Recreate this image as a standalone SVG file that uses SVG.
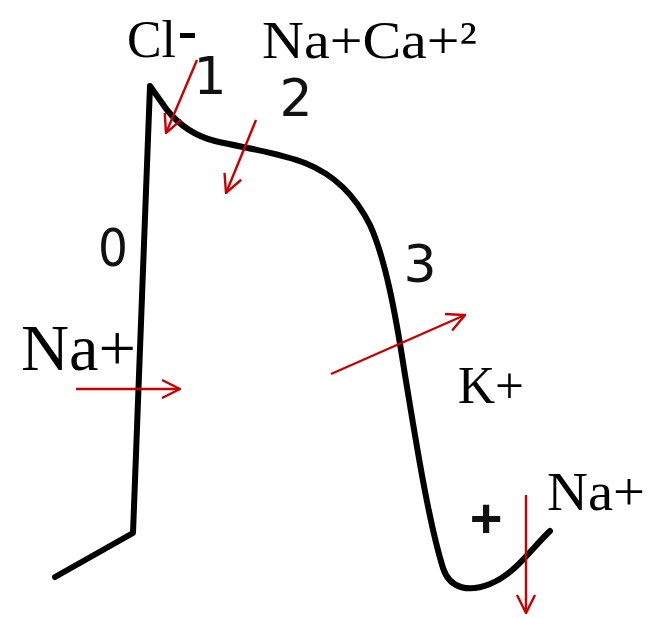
<svg xmlns="http://www.w3.org/2000/svg" width="665" height="618" viewBox="0 0 665 618">
<style>
.curve{fill:none;stroke:#000;stroke-width:6;stroke-linejoin:round;stroke-linecap:round}
.arr{fill:none;stroke:#c80000;stroke-width:2.4}
.ion{font-family:"Liberation Serif","Times New Roman",serif;fill:#000}
.ph{font-family:"DejaVu Sans",Arial,sans-serif;fill:#111;text-anchor:middle}
</style>
<defs>
<marker id="ah" viewBox="0 0 20 20" refX="19" refY="10" markerWidth="20" markerHeight="20" markerUnits="userSpaceOnUse" orient="auto">
<path d="M1,1 L19,10 L1,19" fill="none" stroke="#c80000" stroke-width="2.4"/>
</marker>
</defs>
<rect width="665" height="618" fill="#fff"/>
<path class="curve" d="M55,577 L133,533 L150,86 L167,110 C180,126 195,136 215,141 C245,148 280,153 305,163 C335,175 355,195 370,225 C385,258 395,310 405,375 C415,435 428,520 443,568 C450,590 470,592 490,584 C515,574 530,550 550,531"/>
<g id="connectors">
<line class="arr" x1="197" y1="60" x2="166" y2="133" marker-end="url(#ah)"/>
<line class="arr" x1="256" y1="120" x2="226" y2="193" marker-end="url(#ah)"/>
<line class="arr" x1="76" y1="389" x2="180" y2="389" marker-end="url(#ah)"/>
<line class="arr" x1="331" y1="374" x2="465" y2="315" marker-end="url(#ah)"/>
<line class="arr" x1="526" y1="495" x2="526" y2="613" marker-end="url(#ah)"/>
</g>
<g id="labels">
<text class="ion" x="127" y="57" font-size="52" textLength="49" lengthAdjust="spacingAndGlyphs">Cl</text>
<rect x="180" y="33" width="15" height="5" fill="#000"/>
<text class="ion" x="262" y="58" font-size="52" textLength="215" lengthAdjust="spacingAndGlyphs">Na+Ca+²</text>
<text class="ion" x="21" y="370" font-size="66" textLength="115" lengthAdjust="spacingAndGlyphs">Na+</text>
<text class="ion" x="458" y="403" font-size="53" textLength="66" lengthAdjust="spacingAndGlyphs">K+</text>
<text class="ion" x="547" y="510" font-size="54" textLength="98" lengthAdjust="spacingAndGlyphs">Na+</text>
<text class="ph" x="113" y="266" font-size="52" textLength="30" lengthAdjust="spacingAndGlyphs">0</text>
<text class="ph" x="210" y="94" font-size="52">1</text>
<text class="ph" x="296" y="116" font-size="52">2</text>
<text class="ph" x="420" y="282" font-size="52">3</text>
<text x="486" y="537" font-size="56" font-family="Liberation Sans, Arial, sans-serif" text-anchor="middle" font-weight="bold" fill="#111">+</text>
</g>
</svg>
